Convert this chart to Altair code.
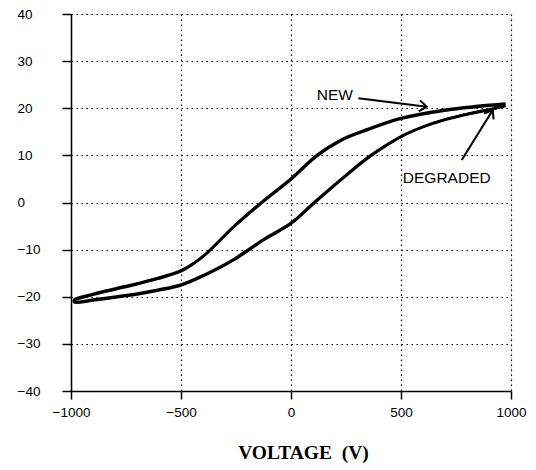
import math
import altair as alt
import pandas as pd

# ---- data ----
x_ticks = [-1000, -500, 0, 500, 1000]
y_ticks = [-40, -30, -20, -10, 0, 10, 20, 30, 40]

up_x = [-985, -900, -756, -605, -500, -440, -385, -263, -141, 0, 119, 226, 349, 495, 698, 850, 975]
new_up_y = [-20.8, -19.6, -18.0, -16.2, -14.6, -12.9, -10.9, -5.2, -0.2, 5.1, 10.1, 13.3, 15.6, 17.9, 19.7, 20.5, 21.0]
deg_up_y = [-20.6, -19.4, -17.8, -16.0, -14.4, -12.8, -10.8, -5.3, -0.4, 4.9, 9.9, 13.1, 15.4, 17.7, 19.5, 20.3, 20.8]

lo_x = [-985, -900, -756, -605, -500, -416, -263, -125, 0, 104, 226, 349, 440, 520, 600, 698, 800, 916, 975]
new_lo_y = [-21.2, -20.8, -19.9, -18.7, -17.6, -16.0, -12.3, -8.0, -4.5, -0.2, 4.7, 9.4, 12.3, 14.4, 16.0, 17.5, 18.7, 19.8, 20.6]
deg_lo_y = [-21.0, -20.6, -19.7, -18.5, -17.4, -15.8, -12.1, -7.8, -4.3, 0.0, 4.9, 9.6, 12.4, 14.5, 16.1, 17.6, 18.8, 19.9, 20.5]

labels = ["NEW", "DEGRADED"]
label_x = [199, 708]
label_y = [22.9, 5.1]
arrow_x0 = [306, 776]
arrow_y0 = [22.1, 9.0]
arrow_x1 = [617, 917]
arrow_y1 = [20.3, 19.6]

W, H = 440, 377
X_DOM, Y_DOM = (-1000, 1000), (-40, 40)

rows = []
for name, uy, ly in [("NEW", new_up_y, new_lo_y), ("DEGRADED", deg_up_y, deg_lo_y)]:
    k = 0
    for xv, yv in zip(reversed(up_x), reversed(uy)):
        rows.append({"series": name, "x": xv, "y": yv, "o": k}); k += 1
    for xv, yv in zip(lo_x, ly):
        rows.append({"series": name, "x": xv, "y": yv, "o": k}); k += 1
curves = pd.DataFrame(rows)

sx = W / (X_DOM[1] - X_DOM[0])
sy = H / (Y_DOM[1] - Y_DOM[0])
arrows = []
heads = []
for i, lab in enumerate(labels):
    arrows.append({"a": lab, "x": arrow_x0[i], "y": arrow_y0[i], "o": 0})
    arrows.append({"a": lab, "x": arrow_x1[i], "y": arrow_y1[i], "o": 1})
    dx = (arrow_x1[i] - arrow_x0[i]) * sx
    dy = -(arrow_y1[i] - arrow_y0[i]) * sy
    ang = math.degrees(math.atan2(dy, dx)) % 360
    heads.append({"x": arrow_x1[i], "y": arrow_y1[i], "ang": ang})
arrows = pd.DataFrame(arrows)
heads = pd.DataFrame(heads)
texts = pd.DataFrame({"t": labels, "x": label_x, "y": label_y})

xs = alt.Scale(domain=list(X_DOM), nice=False)
ys = alt.Scale(domain=list(Y_DOM), nice=False)

x_axis = alt.Axis(values=x_ticks, format="d", title="VOLTAGE\u00a0\u00a0(V)", grid=True,
                  gridDash=[1.5, 3.5], gridColor="black", gridWidth=1.2, gridOpacity=1,
                  domainColor="black", domainWidth=1.5, tickColor="black", tickWidth=1.5,
                  tickSize=8, labelPadding=6, labelFont="Liberation Sans", labelFontSize=13.5,
                  labelColor="black", labelFlush=False,
                  titleFont="Liberation Serif", titleFontWeight="bold", titleFontSize=19.5,
                  titleColor="black", titleX=232, titleY=67, titleBaseline="alphabetic",
                  titleAlign="center")
y_axis = alt.Axis(values=y_ticks, format="d", title=None, grid=True,
                  gridDash=[1.5, 3.5], gridColor="black", gridWidth=1.2, gridOpacity=1,
                  domainColor="black", domainWidth=1.5, tickColor="black", tickWidth=1.5,
                  tickSize=9, labelPadding=45, labelAlign="left", labelFont="Liberation Sans",
                  labelFontSize=13.5, labelColor="black", labelFlush=False)

base_curve = alt.Chart(curves).mark_line(color="black", strokeWidth=2.6,
                                         interpolate="catmull-rom").encode(
    x=alt.X("x:Q", scale=xs, axis=x_axis),
    y=alt.Y("y:Q", scale=ys, axis=y_axis),
    detail="series:N",
    order="o:Q",
)

arrow_lines = alt.Chart(arrows).mark_line(color="black", strokeWidth=2).encode(
    x=alt.X("x:Q", scale=xs), y=alt.Y("y:Q", scale=ys), detail="a:N", order="o:Q")

arrow_heads = alt.Chart(heads).mark_point(
    shape="M-1,-0.75L0,0L-1,0.75", filled=False, color="black", strokeWidth=2,
    size=220, opacity=1).encode(
    x=alt.X("x:Q", scale=xs), y=alt.Y("y:Q", scale=ys), angle=alt.Angle("ang:Q", scale=None))

label_text = alt.Chart(texts).mark_text(font="Liberation Sans", fontSize=15.5, color="black",
                                        align="center", baseline="middle").encode(
    x=alt.X("x:Q", scale=xs), y=alt.Y("y:Q", scale=ys), text="t:N")

chart = alt.layer(base_curve, arrow_lines, arrow_heads, label_text).properties(
    width=W, height=H,
    autosize=alt.AutoSizeParams(type="none"),
    padding={"left": 71, "top": 14, "right": 25, "bottom": 79},
).configure_view(stroke="black", strokeWidth=1.5).configure(background="white")

chart.save("out.html", embed_options={"renderer": "svg", "actions": False})
